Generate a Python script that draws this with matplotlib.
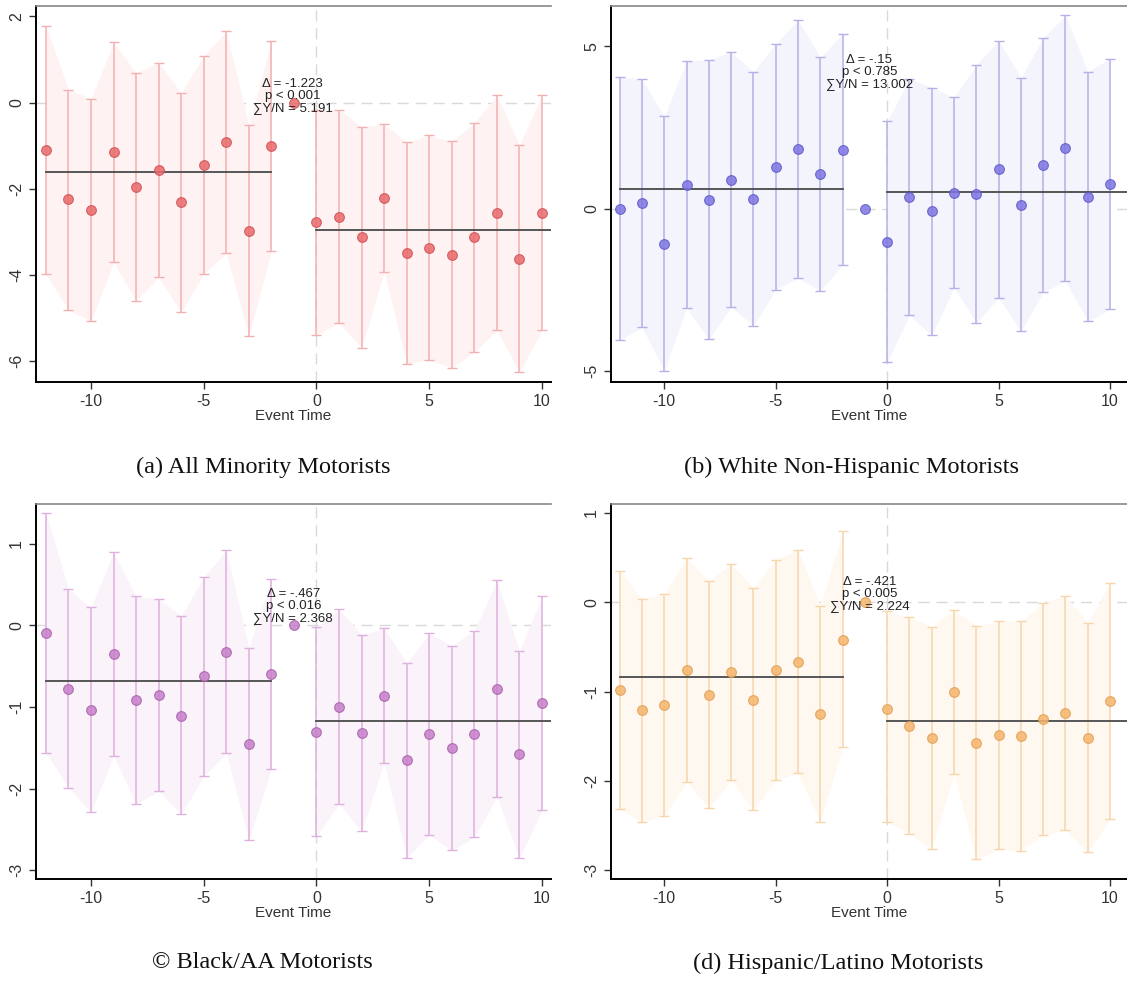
import numpy as np
import matplotlib
matplotlib.use('Agg')
import matplotlib.pyplot as plt

plt.rcParams['font.family'] = ['Liberation Sans', 'DejaVu Sans']
plt.rcParams['axes.unicode_minus'] = False

event_time = list(range(-12, 11))
nan = np.nan

# (a) All minority motorists
coef_a = [-1.095, -2.244, -2.491, -1.157, -1.951, -1.573, -2.314, -1.450, -0.918, -2.969, -1.003, 0.0,
          -2.776, -2.653, -3.123, -2.206, -3.493, -3.362, -3.524, -3.123, -2.553, -3.625, -2.560]
hi_a = [1.781, 0.301, 0.093, 1.396, 0.686, 0.925, 0.224, 1.087, 1.650, -0.524, 1.419, nan,
        -0.169, -0.162, -0.563, -0.494, -0.925, -0.763, -0.895, -0.478, 0.170, -0.987, 0.170]
lo_a = [-3.972, -4.805, -5.074, -3.702, -4.596, -4.049, -4.858, -3.972, -3.493, -5.421, -3.432, nan,
        -5.383, -5.113, -5.691, -3.918, -6.062, -5.961, -6.154, -5.784, -5.283, -6.247, -5.283]

# (b) White non-Hispanic motorists
coef_b = [0.0, 0.164, -1.084, 0.746, 0.276, 0.900, 0.297, 1.288, 1.840, 1.074, 1.820, 0.0,
          -1.012, 0.358, -0.082, 0.501, 0.460, 1.227, 0.123, 1.350, 1.861, 0.368, 0.767]
hi_b = [4.059, 3.988, 2.843, 4.540, 4.581, 4.836, 4.213, 5.082, 5.808, 4.663, 5.378, nan,
        2.689, 4.008, 3.732, 3.425, 4.427, 5.174, 4.039, 5.256, 5.951, 4.223, 4.622]
lo_b = [-4.049, -3.650, -4.990, -3.047, -4.018, -3.016, -3.609, -2.485, -2.127, -2.526, -1.728, nan,
        -4.714, -3.272, -3.896, -2.423, -3.507, -2.730, -3.773, -2.566, -2.219, -3.466, -3.088]

# (c) Black/AA motorists
coef_c = [-0.094, -0.774, -1.036, -0.348, -0.917, -0.852, -1.105, -0.626, -0.323, -1.453, -0.598, 0.0,
          -1.306, -0.999, -1.314, -0.860, -1.654, -1.335, -1.498, -1.331, -0.778, -1.580, -0.954]
hi_c = [1.384, 0.446, 0.221, 0.897, 0.360, 0.323, 0.119, 0.594, 0.921, -0.274, 0.565, nan,
        -0.020, 0.197, -0.115, -0.037, -0.463, -0.098, -0.246, -0.066, 0.553, -0.315, 0.356]
lo_c = [-1.560, -1.990, -2.289, -1.597, -2.190, -2.031, -2.317, -1.851, -1.568, -2.629, -1.760, nan,
        -2.588, -2.190, -2.526, -1.683, -2.850, -2.571, -2.760, -2.596, -2.104, -2.850, -2.268]

# (d) Hispanic/Latino motorists
coef_d = [-0.986, -1.210, -1.154, -0.762, -1.038, -0.784, -1.091, -0.762, -0.669, -1.251, -0.418, 0.0,
          -1.199, -1.386, -1.524, -1.008, -1.576, -1.490, -1.501, -1.303, -1.244, -1.516, -1.106]
hi_d = [0.355, 0.041, 0.093, 0.497, 0.243, 0.433, 0.157, 0.478, 0.586, -0.041, 0.799, nan,
        -0.100, -0.168, -0.273, -0.086, -0.265, -0.213, -0.213, -0.004, 0.071, -0.228, 0.220]
lo_d = [-2.319, -2.461, -2.390, -2.017, -2.304, -1.994, -2.327, -1.991, -1.916, -2.461, -1.626, nan,
        -2.461, -2.592, -2.768, -1.923, -2.876, -2.768, -2.782, -2.607, -2.555, -2.801, -2.428]

pre_level = [-1.604, 0.603, -0.676, -0.840]
post_level = [-2.954, 0.521, -1.175, -1.333]

stat_text = ['\u0394 = -1.223\np < 0.001\n\u2211Y/N = 5.191',
             '\u0394 = -.15\np < 0.785\n\u2211Y/N = 13.002',
             '\u0394 = -.467\np < 0.016\n\u2211Y/N = 2.368',
             '\u0394 = -.421\np < 0.005\n\u2211Y/N = 2.224']
captions = ['(a) All Minority Motorists', '(b) White Non-Hispanic Motorists',
            '\u00a9 Black/AA Motorists', '(d) Hispanic/Latino Motorists']

W, H = 1127, 981


def rect(l, r, t, b):
    return [l / W, 1 - b / H, (r - l) / W, (b - t) / H]


panels = [
    dict(coef=coef_a, hi=hi_a, lo=lo_a, box=(36, 551, 6, 382), xlim=(-12.44, 10.4), ylim=(-6.48, 2.24),
         yticks=[-6, -4, -2, 0, 2], txt=(-1.05, 0.155), cap=(263, 467),
         pt='#ea6a6c', edge='#cc5053', bar='#f3b0b0', band='#fef2f2'),
    dict(coef=coef_b, hi=hi_b, lo=lo_b, box=(611, 1127, 6, 382), xlim=(-12.39, 10.76), ylim=(-5.33, 6.24),
         yticks=[-5, 0, 5], txt=(-0.8, 4.22), cap=(851, 467),
         pt='#7d76e2', edge='#5e57c8', bar='#b4b1e6', band='#f4f4fc'),
    dict(coef=coef_c, hi=hi_c, lo=lo_c, box=(36, 551, 504, 879), xlim=(-12.44, 10.4), ylim=(-3.11, 1.49),
         yticks=[-3, -2, -1, 0, 1], txt=(-1.03, 0.237), cap=(262, 963),
         pt='#c77fc9', edge='#a85fab', bar='#deb0dd', band='#faf3fa'),
    dict(coef=coef_d, hi=hi_d, lo=lo_d, box=(611, 1127, 504, 879), xlim=(-12.39, 10.76), ylim=(-3.10, 1.10),
         yticks=[-3, -2, -1, 0, 1], txt=(-0.79, 0.09), cap=(838, 963),
         pt='#f5b56c', edge='#e29d50', bar='#f7d6ad', band='#fff8f0'),
]

fig = plt.figure(figsize=(W / 100, H / 100), dpi=100)
t = np.array(event_time)

for i, p in enumerate(panels):
    ax = fig.add_axes(rect(*p['box']))
    coef = np.array(p['coef'])
    hi = np.array(p['hi'])
    lo = np.array(p['lo'])
    pre = t <= -2
    post = t >= 0

    ax.axhline(0, color='#d9d9d9', lw=1, ls=(0, (8, 5)), zorder=0)
    ax.axvline(0, color='#d9d9d9', lw=1, ls=(0, (8, 5)), zorder=0)

    for m in (pre, post):
        ax.fill_between(t[m], lo[m], hi[m], color=p['band'], lw=0, zorder=1)
    ok = ~np.isnan(hi)
    ax.errorbar(t[ok], coef[ok], yerr=[coef[ok] - lo[ok], hi[ok] - coef[ok]], fmt='none',
                ecolor=p['bar'], elinewidth=1.1, capsize=3.5, capthick=1.0, zorder=2)

    ax.plot([-12, -2], [pre_level[i]] * 2, color='#4a4a4a', lw=1.3, zorder=3)
    ax.plot([0, 12], [post_level[i]] * 2, color='#4a4a4a', lw=1.3, zorder=3)

    ax.plot(t, coef, 'o', ms=7, mfc=p['pt'], mec=p['edge'], mew=0.8, alpha=0.85, zorder=4)

    ax.text(p['txt'][0], p['txt'][1], stat_text[i], ha='center', va='center', fontsize=9.5,
            linespacing=1.0, color='#222222', zorder=5)

    ax.set_xlim(*p['xlim'])
    ax.set_ylim(*p['ylim'])
    ax.set_xticks([-10, -5, 0, 5, 10])
    ax.set_yticks(p['yticks'])
    ax.tick_params(axis='both', labelsize=11.5, length=5, width=1, color='#333333', labelcolor='#333333')
    for lab in ax.get_yticklabels():
        lab.set_rotation(90)
        lab.set_va('center')
    ax.set_xlabel('Event Time', fontsize=11, labelpad=0, color='#333333')
    ax.spines['right'].set_visible(False)
    ax.spines['top'].set_color('#888888')
    ax.spines['top'].set_linewidth(1.2)
    ax.spines['left'].set_linewidth(1.4)
    ax.spines['bottom'].set_linewidth(1.4)

    fig.text(p['cap'][0] / W, 1 - p['cap'][1] / H, captions[i], ha='center', va='center',
             fontsize=17.5, family=['Liberation Serif', 'DejaVu Serif'], color='#111111')

fig.savefig('out.png', dpi=100)
